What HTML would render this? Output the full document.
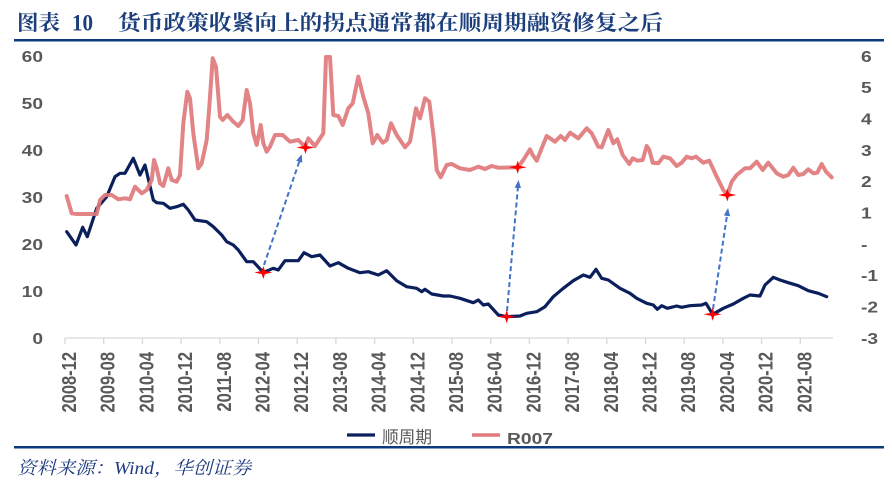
<!DOCTYPE html>
<html><head><meta charset="utf-8"><style>
html,body{margin:0;padding:0;background:#fff;}
svg{display:block;}
</style></head><body>
<svg width="892" height="494" viewBox="0 0 892 494" xmlns="http://www.w3.org/2000/svg">
<defs>
<marker id="ah" markerWidth="8" markerHeight="8" refX="4" refY="4" orient="auto" markerUnits="userSpaceOnUse">
<path d="M0,0.8 L8,4 L0,7.2 Z" fill="#4472C4"/>
</marker>
<path id="star" d="M-9,0 L-1.6,-1.6 L0,-6.5 L1.6,-1.6 L9,0 L1.6,1.6 L0,6.5 L-1.6,1.6 Z" fill="#FF0000"/>
</defs>
<rect width="892" height="494" fill="#fff"/>

<!-- Title -->
<text x="17" y="30" font-family="Noto Serif CJK SC, serif" font-weight="bold" font-size="21" fill="#1c3f7c" textLength="43" lengthAdjust="spacingAndGlyphs">图表</text>
<text x="72" y="30.5" font-family="Liberation Serif, serif" font-weight="bold" font-size="23" fill="#1c3f7c" textLength="21" lengthAdjust="spacingAndGlyphs">10</text>
<text x="118" y="30" font-family="Noto Serif CJK SC, serif" font-weight="bold" font-size="21" fill="#1c3f7c" textLength="545" lengthAdjust="spacingAndGlyphs">货币政策收紧向上的拐点通常都在顺周期融资修复之后</text>
<rect x="14" y="39" width="870" height="2.5" fill="#0c3b7c"/>

<!-- Left axis labels -->
<g font-family="Liberation Sans, sans-serif" font-weight="bold" font-size="16" fill="#595959" text-anchor="end">
<text transform="translate(43,61.8) scale(1.2,1)">60</text>
<text transform="translate(43,108.8) scale(1.2,1)">50</text>
<text transform="translate(43,155.8) scale(1.2,1)">40</text>
<text transform="translate(43,202.8) scale(1.2,1)">30</text>
<text transform="translate(43,249.8) scale(1.2,1)">20</text>
<text transform="translate(43,296.8) scale(1.2,1)">10</text>
<text transform="translate(43,343.8) scale(1.2,1)">0</text>
</g>
<!-- Right axis labels -->
<g font-family="Liberation Sans, sans-serif" font-weight="bold" font-size="16" fill="#595959">
<text transform="translate(861,61.8) scale(1.2,1)">6</text>
<text transform="translate(861,93.1) scale(1.2,1)">5</text>
<text transform="translate(861,124.5) scale(1.2,1)">4</text>
<text transform="translate(861,155.8) scale(1.2,1)">3</text>
<text transform="translate(861,187.1) scale(1.2,1)">2</text>
<text transform="translate(861,218.5) scale(1.2,1)">1</text>
<text transform="translate(861,249.8) scale(1.2,1)">-</text>
<text transform="translate(861,281.1) scale(1.2,1)">-1</text>
<text transform="translate(861,312.5) scale(1.2,1)">-2</text>
<text transform="translate(861,343.8) scale(1.2,1)">-3</text>
</g>

<!-- X axis -->
<line x1="65" y1="338" x2="833" y2="338" stroke="#d9d9d9" stroke-width="1.3"/>
<g stroke="#d9d9d9" stroke-width="1.3">
<line x1="65" y1="338" x2="65" y2="344"/><line x1="103.7" y1="338" x2="103.7" y2="344"/><line x1="142.4" y1="338" x2="142.4" y2="344"/><line x1="181.1" y1="338" x2="181.1" y2="344"/><line x1="219.8" y1="338" x2="219.8" y2="344"/><line x1="258.5" y1="338" x2="258.5" y2="344"/><line x1="297.2" y1="338" x2="297.2" y2="344"/><line x1="335.9" y1="338" x2="335.9" y2="344"/><line x1="374.6" y1="338" x2="374.6" y2="344"/><line x1="413.3" y1="338" x2="413.3" y2="344"/><line x1="452" y1="338" x2="452" y2="344"/><line x1="490.7" y1="338" x2="490.7" y2="344"/><line x1="529.4" y1="338" x2="529.4" y2="344"/><line x1="568.1" y1="338" x2="568.1" y2="344"/><line x1="606.8" y1="338" x2="606.8" y2="344"/><line x1="645.5" y1="338" x2="645.5" y2="344"/><line x1="684.2" y1="338" x2="684.2" y2="344"/><line x1="722.9" y1="338" x2="722.9" y2="344"/><line x1="761.6" y1="338" x2="761.6" y2="344"/><line x1="800.3" y1="338" x2="800.3" y2="344"/>
</g>
<g font-family="Liberation Sans, sans-serif" font-weight="bold" font-size="16.5" fill="#595959" text-anchor="end">
<text transform="translate(76,352) rotate(-90) scale(1,1.22)">2008-12</text>
<text transform="translate(114.7,352) rotate(-90) scale(1,1.22)">2009-08</text>
<text transform="translate(153.4,352) rotate(-90) scale(1,1.22)">2010-04</text>
<text transform="translate(192.1,352) rotate(-90) scale(1,1.22)">2010-12</text>
<text transform="translate(230.8,352) rotate(-90) scale(1,1.22)">2011-08</text>
<text transform="translate(269.5,352) rotate(-90) scale(1,1.22)">2012-04</text>
<text transform="translate(308.2,352) rotate(-90) scale(1,1.22)">2012-12</text>
<text transform="translate(346.9,352) rotate(-90) scale(1,1.22)">2013-08</text>
<text transform="translate(385.6,352) rotate(-90) scale(1,1.22)">2014-04</text>
<text transform="translate(424.3,352) rotate(-90) scale(1,1.22)">2014-12</text>
<text transform="translate(463,352) rotate(-90) scale(1,1.22)">2015-08</text>
<text transform="translate(501.7,352) rotate(-90) scale(1,1.22)">2016-04</text>
<text transform="translate(540.4,352) rotate(-90) scale(1,1.22)">2016-12</text>
<text transform="translate(579.1,352) rotate(-90) scale(1,1.22)">2017-08</text>
<text transform="translate(617.8,352) rotate(-90) scale(1,1.22)">2018-04</text>
<text transform="translate(656.5,352) rotate(-90) scale(1,1.22)">2018-12</text>
<text transform="translate(695.2,352) rotate(-90) scale(1,1.22)">2019-08</text>
<text transform="translate(733.9,352) rotate(-90) scale(1,1.22)">2020-04</text>
<text transform="translate(772.6,352) rotate(-90) scale(1,1.22)">2020-12</text>
<text transform="translate(811.3,352) rotate(-90) scale(1,1.22)">2021-08</text>
</g>

<!-- Blue series 顺周期 -->
<polyline fill="none" stroke="#0a1f5c" stroke-width="3.2" stroke-linejoin="round" stroke-linecap="round" points="66.7,231.7 76,245 82.7,227.3 87.3,236.7 96.7,208.3 106.7,196.7 115,176.7 120,173.3 125,173.3 133.3,158.3 140,175 145,165 153.3,200 156.7,202.7 163.3,203.3 170,208.3 176.7,206.7 183.3,204.3 188.3,210 195,220 206.7,221.7 213.3,226.7 221.7,235 226.7,241.7 233.3,245 238.3,250 246.7,261.7 253.3,261.7 263.3,272.5 273.3,268.3 278.3,270 285,260.7 298.3,260.7 304,252.7 311.7,256.7 320,255 330,266 338.3,262.7 348.3,268.3 360,272.7 368.3,271.7 378.3,275 386.7,270.7 396.7,280.7 406.7,286.7 416.7,288.3 421.7,291.7 425,289.3 431.7,294 443.3,296 450,296 460,298.3 473.3,302.7 478.3,300 483.3,305 488.3,304 498.3,315 506.7,316.7 520,316 526.7,313.3 536.7,311.7 545,306.7 553.3,296.7 563.3,288.3 573.3,280.7 583.3,275 590,277.3 596,269.3 601.7,278.3 608.3,280 620,288.3 630,293.3 636.7,298.3 646.7,303.3 653.3,305 657.3,309.3 661.7,305.7 667.3,308.3 676.7,306 681.7,307.3 690,305.7 701.7,305 706,303.3 712.7,314.3 723.3,308.3 733.3,304 743.3,298.3 750,295 760,296 765,285 773.3,277.3 780,280 788.3,282.7 798.3,285.7 808.3,290.7 818.3,293.3 826.7,296.7"/>

<!-- Pink series R007 -->
<polyline fill="none" stroke="#df7a7c" stroke-opacity="0.92" stroke-width="4" stroke-linejoin="round" stroke-linecap="round" points="66.7,196 71.7,213.3 76.7,214 96.7,214 100,200 105,195 111.7,195 118.3,199.3 125,198.3 130,199.3 135,186.7 141.7,193.3 146.7,190 151.7,180 154,160 156.7,168.3 160,183.3 163.3,186 168.3,168.3 171.7,180 176.7,181.7 180,175 183.3,123.3 187.3,91.7 190,98.3 193.3,133.3 198.3,168.3 201.7,163.3 206.7,140 209.3,106.7 212.7,58.3 216,66.7 220,116.7 222.7,120 227.3,115 233.3,121.7 238.3,126 242.7,120 246.7,90 250,103.3 253.3,133.3 256.7,145 260.7,125 263.3,143.3 266.7,151.7 270,146.7 275,135 282.7,135 290,141.7 298.3,140 305,146.7 308.3,138.3 315,146 323.3,133.3 326,57 330,57 333.3,115 338.3,116 342.7,125 348.3,108.3 352.7,103.3 358.3,76.7 363.3,96.7 368.3,113.3 372.7,143.3 377.3,135 382.7,142.7 386.7,140 391,123.3 396.7,135 405,147.3 410,141.7 416,108.3 420,118.3 425,98.3 429.3,101.7 434,140 436.7,170 440.7,177.3 446.7,165 451.7,164 460,168.3 470,170 478.3,166.7 485,169 491.7,166 498.3,167.7 517.7,167.3 523.3,160 530,149.3 532.7,155 536.7,160.7 541.7,148.3 546.7,136 555,141.7 560.7,136 565,140 570,132.7 578.3,138.3 586.7,128.3 591.7,133.3 598.3,146.7 601.7,147.3 608.3,130 613.3,143.3 617.3,139.3 622.7,155 629.3,164 632.7,158.3 637.3,160.7 642.7,160 646.7,146 649.3,150 652.7,162.7 658.3,163.3 663.3,156.7 670,158.3 676.7,166 681.7,162.7 686.7,156.7 691.7,158.3 696,156.7 703.3,162.7 709.3,160.7 716.7,176.7 723.3,190 727.3,195 731.7,181.7 736.7,175 745,168.3 750,168.3 756.7,161.7 762.7,170 768.3,162.7 776.7,173.3 783.3,176.7 788.3,175 793.3,167.7 798.3,175 803.3,174 808.3,169.3 813.3,173.3 817.3,172.7 821.7,164 826,171.7 831.7,177.3"/>

<!-- Dashed arrows -->
<g stroke="#4472C4" stroke-width="2" stroke-dasharray="5,3" fill="none" marker-end="url(#ah)">
<line x1="264" y1="265" x2="300.5" y2="158"/>
<line x1="507" y1="311" x2="518.2" y2="184"/>
<line x1="713" y1="309" x2="727.5" y2="212"/>
</g>

<!-- Stars -->
<use href="#star" x="263.3" y="272.5"/>
<use href="#star" x="305.5" y="147.5"/>
<use href="#star" x="506.7" y="316.7"/>
<use href="#star" x="517.7" y="167.3"/>
<use href="#star" x="712.7" y="314.3"/>
<use href="#star" x="727.3" y="195"/>

<!-- Legend -->
<line x1="347" y1="435" x2="375" y2="435" stroke="#0a1f5c" stroke-width="3.2"/>
<text x="382" y="443" font-family="Liberation Sans, Noto Sans CJK SC, sans-serif" font-size="17" fill="#595959" textLength="50" lengthAdjust="spacingAndGlyphs">顺周期</text>
<line x1="472" y1="435" x2="500" y2="435" stroke="#df7a7c" stroke-width="3.5"/>
<text x="507" y="444" font-family="Liberation Sans, sans-serif" font-weight="bold" font-size="16" fill="#595959" textLength="46" lengthAdjust="spacingAndGlyphs">R007</text>

<!-- Bottom line and source -->
<rect x="14" y="446" width="870" height="2.5" fill="#0c3b7c"/>
<text x="17" y="474" font-family="Liberation Serif, Noto Serif CJK SC, serif" font-style="italic" font-size="18" fill="#1f3c80" textLength="234" lengthAdjust="spacingAndGlyphs">资料来源：Wind，华创证券</text>
</svg>
</body></html>
